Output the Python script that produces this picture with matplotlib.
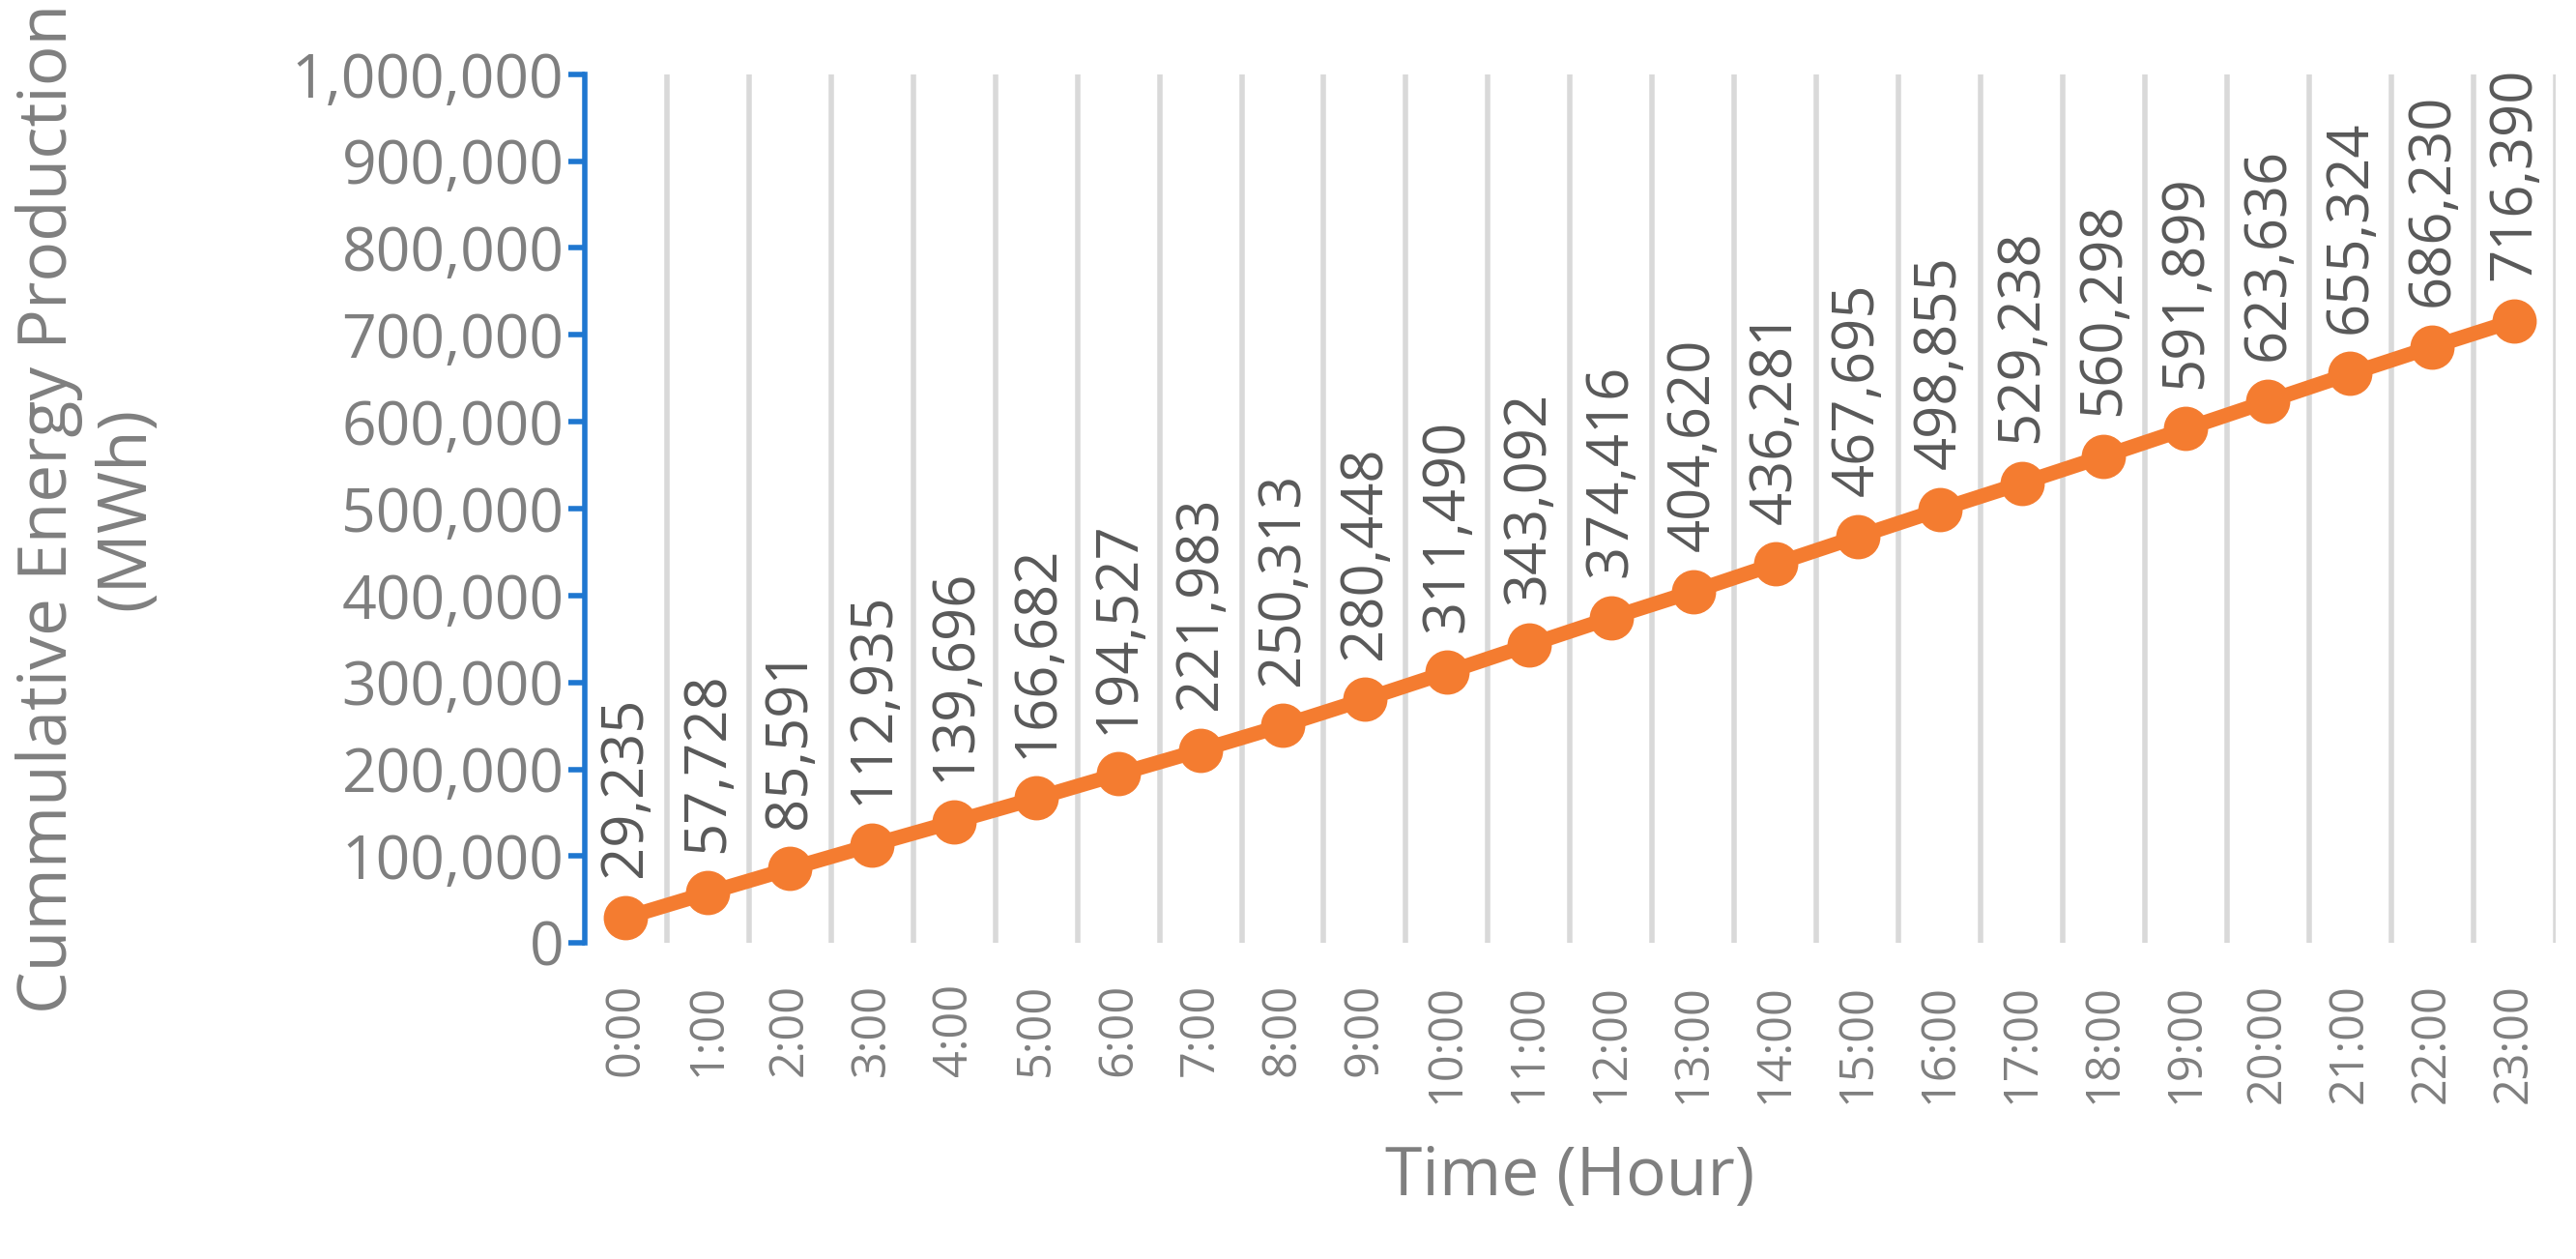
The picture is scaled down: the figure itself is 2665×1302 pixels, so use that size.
import matplotlib
matplotlib.use("Agg")
import matplotlib.pyplot as plt
from matplotlib.ticker import FuncFormatter, MultipleLocator

hours = [f"{h}:00" for h in range(24)]
values = [29235, 57728, 85591, 112935, 139696, 166682, 194527, 221983, 250313, 280448,
          311490, 343092, 374416, 404620, 436281, 467695, 498855, 529238, 560298, 591899,
          623636, 655324, 686230, 716390]

plt.rcParams['font.family'] = ['Open Sans', 'DejaVu Sans']
gray = '#7f7f7f'
fig = plt.figure(figsize=(26.65, 13.02), dpi=100)
ax = fig.add_axes([0.227, 0.251, 0.765, 0.69])
x = list(range(len(hours)))
ax.plot(x, values, color='#f47c30', lw=11, marker='o', ms=32, zorder=3)
for xi, v in zip(x, values):
    ax.annotate(f"{v:,}", (xi, v), xytext=(0, 30), textcoords='offset points',
                rotation=90, ha='center', va='bottom', fontsize=43, color='#595959')
ax.set_xlim(-0.5, 23.5)
ax.set_ylim(0, 1000000)
ax.yaxis.set_major_locator(MultipleLocator(100000))
ax.yaxis.set_major_formatter(FuncFormatter(lambda v, p: f"{int(v):,}"))
for b in range(1, 25):
    ax.axvline(b - 0.5, color='#d9d9d9', lw=4, zorder=1)
ax.set_xticks(x)
ax.set_xticklabels(hours, rotation=90, fontsize=35, color=gray)
ax.tick_params(axis='x', length=0, pad=30)
ax.tick_params(axis='y', colors='#1f77d0', labelcolor=gray, labelsize=45, length=12, width=4, direction='out')
for s in ['top', 'right', 'bottom']:
    ax.spines[s].set_visible(False)
ax.spines['left'].set_color('#1f77d0')
ax.spines['left'].set_linewidth(4)
ax.set_xlabel("Time (Hour)", fontsize=50, color=gray, labelpad=30)
ax.set_ylabel("Cummulative Energy Production\n(MWh)", fontsize=50, color=gray)
ax.yaxis.set_label_coords(-0.215, 0.5)
fig.savefig("out.png", dpi=100)
